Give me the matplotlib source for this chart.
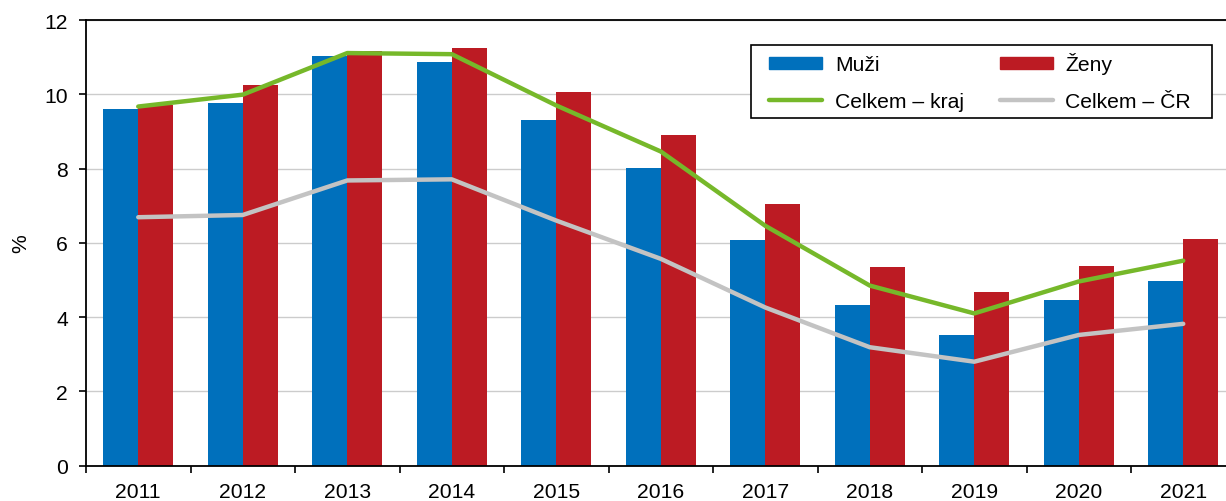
import numpy as np
import matplotlib
matplotlib.use("Agg")
import matplotlib.pyplot as plt
from matplotlib.patches import Patch, Rectangle
from matplotlib.lines import Line2D

plt.rcParams['font.family'] = ['Liberation Sans', 'DejaVu Sans']

years = ['2011', '2012', '2013', '2014', '2015', '2016', '2017', '2018', '2019', '2020', '2021']
muzi = [9.60, 9.76, 11.04, 10.88, 9.30, 8.01, 6.08, 4.34, 3.53, 4.47, 4.97]
zeny = [9.72, 10.25, 11.16, 11.25, 10.05, 8.91, 7.05, 5.35, 4.69, 5.39, 6.10]
celkem_kraj = [9.67, 9.99, 11.11, 11.08, 9.70, 8.46, 6.46, 4.85, 4.10, 4.96, 5.52]
celkem_cr = [6.69, 6.75, 7.68, 7.71, 6.60, 5.57, 4.26, 3.19, 2.80, 3.52, 3.82]

c_blue = '#0070BC'
c_red = '#BC1B23'
c_green = '#76B82A'
c_gray = '#C3C3C3'

fs = 15.2
W, H = 1226, 502
fig = plt.figure(figsize=(W / 100, H / 100), dpi=100)
# axes run a bit past the right edge of the picture, as in the original
ax_l, ax_r, ax_t, ax_b = 86, 1235.5, 21, 466.7
ax = fig.add_axes([ax_l / W, 1 - ax_b / H, (ax_r - ax_l) / W, (ax_b - ax_t) / H])

x = np.arange(len(years))
bw = 0.335
ax.bar(x - bw / 2, muzi, width=bw, color=c_blue, zorder=2)
ax.bar(x + bw / 2, zeny, width=bw, color=c_red, zorder=2)
ax.plot(x, celkem_cr, color=c_gray, lw=3.2, zorder=3, solid_capstyle='round')
ax.plot(x, celkem_kraj, color=c_green, lw=3.2, zorder=4, solid_capstyle='round')

ax.set_xlim(-0.5, len(years) - 0.5)
ax.set_ylim(0, 12)
ax.set_yticks(range(0, 13, 2))
ax.set_xticks(x)
ax.set_xticklabels(years)
ax.set_xticks(np.arange(-0.5, len(years), 1), minor=True)
ax.tick_params(axis='x', which='major', length=0, labelsize=fs, pad=12)
ax.tick_params(axis='x', which='minor', length=5, width=1.2, direction='out')
ax.tick_params(axis='y', length=5, width=1.2, labelsize=fs, pad=8)
ax.set_ylabel('%', fontsize=fs, labelpad=10)

ax.grid(axis='y', color='#CCCCCC', lw=1, zorder=0)
ax.set_axisbelow(True)
for s in ['left', 'bottom', 'top']:
    ax.spines[s].set_linewidth(1.3)
    ax.spines[s].set_color('black')
ax.spines['right'].set_visible(False)

# legend without frame, frame drawn by hand so it gets wider side padding
handles = [Patch(color=c_blue), Line2D([], [], color=c_green, lw=3.2, solid_capstyle='round'),
           Patch(color=c_red), Line2D([], [], color=c_gray, lw=3.2, solid_capstyle='round')]
labels = ['Muži', 'Celkem – kraj', 'Ženy', 'Celkem – ČR']
leg = ax.legend(handles, labels, ncol=2, fontsize=fs, loc='upper left',
                bbox_to_anchor=((762 - ax_l) / (ax_r - ax_l), 1 - (45.7 - ax_t) / (ax_b - ax_t)),
                frameon=False, handlelength=2.5,
                handleheight=0.5, columnspacing=1.7, handletextpad=0.6, borderpad=0.35,
                labelspacing=0.85, borderaxespad=0)
leg.set_zorder(6)

fig.canvas.draw()
bb = leg.get_window_extent()
pad_l, pad_r = 11, 14
frame = Rectangle(((bb.x0 - pad_l) / W, bb.y0 / H), (bb.width + pad_l + pad_r) / W, bb.height / H,
                  transform=fig.transFigure, facecolor='white', edgecolor='black', lw=1.2,
                  zorder=5, clip_on=False)
ax.add_patch(frame)

plt.savefig('out.png', dpi=100)
plt.close()
